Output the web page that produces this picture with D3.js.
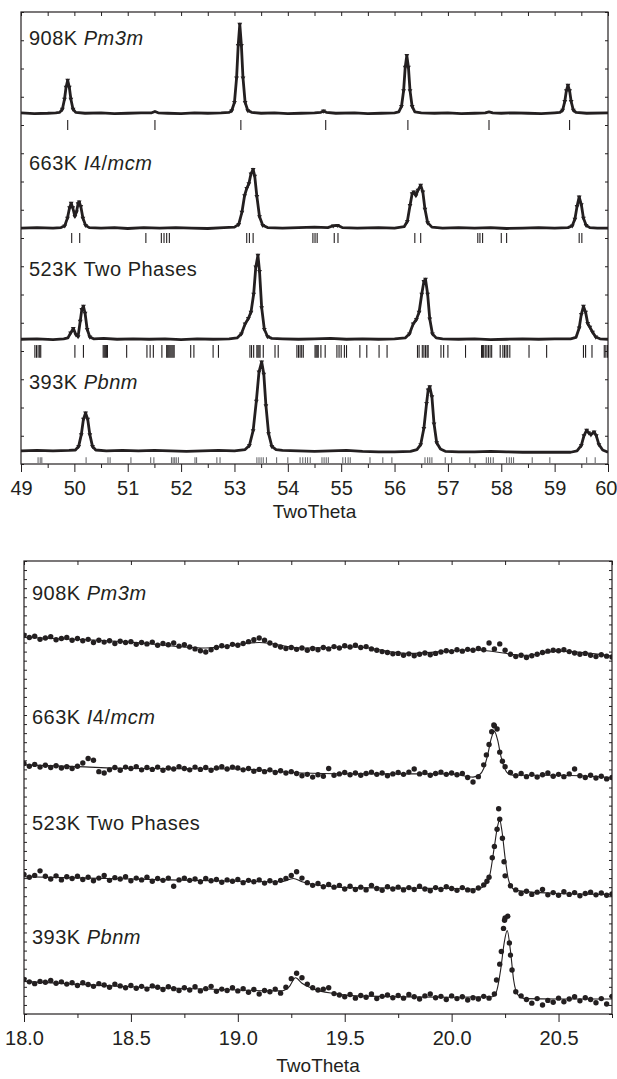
<!DOCTYPE html>
<html>
<head>
<meta charset="utf-8">
<script src="https://cdn.jsdelivr.net/npm/d3@7"></script>
<style>
  body { margin: 0; background: #fff; }
  svg { display: block; font-family: "Liberation Sans", Arial, Helvetica, sans-serif; }
  .tick text { font-size: 20px; fill: #231f20; }
  .tick line { stroke: #231f20; }
  .axis-title { font-size: 19px; fill: #231f20; }
  .series-label { font-size: 20px; fill: #231f20; letter-spacing: 0.5px; }
</style>
</head>
<body>
<svg id="chart" width="617" height="1079"></svg>
<script>
// ---------------- top panel : 49-60 deg ----------------
// observed profiles, [2theta, counts above the pattern's own baseline]
const topSamples = ["908K", "663K", "523K", "393K"];
const topOffsets = [776, 522, 276, 29];

const obs908 = [[49.0, 1], [49.25, -1], [49.5, 0], [49.65, 1], [49.725, 2], [49.775, 9], [49.815, 31], [49.845, 58], [49.875, 73], [49.905, 58], [49.935, 31], [49.975, 9], [50.025, 2], [50.2, 0], [50.5, 1], [50.75, -1], [51.0, 0], [51.25, 1], [51.45, 1], [51.51, 4], [51.57, 1], [51.75, 0], [52.0, -1], [52.25, 1], [52.5, 0], [52.75, 1], [52.9, 2], [52.95, 6], [53.0, 24], [53.04, 78], [53.07, 150], [53.1, 197], [53.13, 150], [53.16, 78], [53.2, 24], [53.25, 6], [53.32, 2], [53.5, 0], [53.75, 1], [54.0, -1], [54.25, 0], [54.5, 1], [54.62, 2], [54.67, 5], [54.72, 2], [54.9, 0], [55.25, 1], [55.5, -1], [55.75, 0], [56.0, 1], [56.08, 3], [56.13, 15], [56.17, 50], [56.2, 102], [56.23, 128], [56.26, 102], [56.29, 50], [56.33, 15], [56.38, 3], [56.5, 1], [56.75, 0], [57.0, 1], [57.25, -1], [57.5, 0], [57.7, 1], [57.77, 3], [57.84, 1], [58.0, 0], [58.25, 1], [58.5, 0], [58.75, -1], [59.0, 1], [59.1, 2], [59.15, 7], [59.19, 26], [59.22, 50], [59.25, 62], [59.28, 50], [59.31, 26], [59.35, 7], [59.4, 2], [59.6, 0], [60.0, 1]];

const obs663 = [[49.0, 0], [49.3, 1], [49.6, 0], [49.75, 1], [49.82, 5], [49.87, 22], [49.91, 45], [49.94, 55], [49.97, 45], [50.01, 26], [50.04, 36], [50.07, 54], [50.09, 58], [50.12, 48], [50.16, 22], [50.21, 6], [50.28, 1], [50.5, 0], [50.75, 1], [51.0, -1], [51.3, 1], [51.6, 0], [51.9, 1], [52.2, 0], [52.5, -1], [52.8, 1], [53.0, 2], [53.08, 8], [53.14, 35], [53.19, 72], [53.23, 88], [53.27, 98], [53.31, 120], [53.35, 130], [53.38, 115], [53.42, 70], [53.47, 25], [53.53, 6], [53.62, 1], [53.9, 0], [54.2, 1], [54.5, 2], [54.75, 1], [54.85, 5], [54.93, 6], [55.02, 1], [55.3, 0], [55.7, 1], [56.0, 0], [56.18, 3], [56.24, 15], [56.29, 50], [56.33, 76], [56.36, 80], [56.4, 72], [56.44, 84], [56.49, 95], [56.53, 80], [56.57, 42], [56.62, 12], [56.7, 2], [56.9, 0], [57.2, 1], [57.5, 0], [57.8, 1], [58.1, -1], [58.4, 0], [58.7, 1], [59.0, 0], [59.25, 1], [59.33, 5], [59.38, 20], [59.42, 48], [59.46, 69], [59.5, 52], [59.54, 22], [59.59, 6], [59.66, 1], [59.8, 0], [60.0, 0]];

const obs523 = [[49.0, 0], [49.3, 1], [49.6, -1], [49.8, 1], [49.88, 3], [49.93, 14], [49.98, 24], [50.03, 10], [50.07, 6], [50.11, 40], [50.14, 66], [50.17, 73], [50.2, 58], [50.24, 22], [50.29, 5], [50.36, 1], [50.55, 2], [50.8, 0], [51.1, 1], [51.4, 0], [51.7, 1], [52.0, -1], [52.3, 1], [52.6, 0], [52.9, 1], [53.05, 3], [53.13, 12], [53.2, 34], [53.26, 46], [53.31, 60], [53.36, 100], [53.4, 160], [53.44, 186], [53.47, 150], [53.51, 70], [53.56, 22], [53.62, 6], [53.7, 2], [53.9, 1], [54.2, 0], [54.5, 1], [54.8, 2], [55.1, 0], [55.4, 1], [55.7, 0], [56.0, 1], [56.2, 3], [56.28, 12], [56.35, 34], [56.41, 44], [56.46, 60], [56.51, 100], [56.55, 128], [56.58, 133], [56.62, 100], [56.66, 45], [56.71, 12], [56.78, 3], [56.9, 1], [57.2, 0], [57.5, 1], [57.8, -1], [58.1, 0], [58.4, 1], [58.7, 0], [59.0, 1], [59.3, 1], [59.4, 4], [59.46, 25], [59.5, 55], [59.54, 73], [59.58, 60], [59.62, 35], [59.66, 27], [59.71, 16], [59.77, 5], [59.85, 1], [60.0, 0]];

const obs393 = [[49.0, 0], [49.3, 1], [49.6, 0], [49.9, 1], [50.02, 2], [50.08, 10], [50.13, 36], [50.17, 70], [50.21, 84], [50.25, 70], [50.29, 36], [50.34, 10], [50.4, 2], [50.6, 0], [50.9, 1], [51.2, 0], [51.5, 1], [51.8, 0], [52.1, -1], [52.4, 0], [52.7, 1], [53.0, 0], [53.2, 3], [53.28, 12], [53.35, 45], [53.41, 110], [53.46, 175], [53.51, 197], [53.55, 170], [53.59, 100], [53.64, 38], [53.7, 10], [53.78, 3], [53.9, 1], [54.2, 0], [54.5, -1], [54.8, 0], [55.1, 1], [55.4, -1], [55.7, -2], [56.0, -2], [56.3, -1], [56.42, 3], [56.49, 14], [56.55, 50], [56.6, 105], [56.63, 135], [56.66, 142], [56.7, 120], [56.74, 60], [56.79, 18], [56.86, 4], [56.95, -1], [57.2, -2], [57.5, -2], [57.8, -1], [58.1, -2], [58.4, -3], [58.7, -3], [59.0, -3], [59.3, -3], [59.42, 0], [59.5, 12], [59.55, 34], [59.6, 46], [59.64, 40], [59.68, 36], [59.74, 42], [59.78, 34], [59.83, 14], [59.9, 2], [60.0, -3]];

// reflection positions (2theta) under each pattern
const hkl908 = [49.875, 51.51, 53.12, 54.71, 56.25, 57.77, 59.28];
const hkl663 = [49.95, 50.1, 51.34, 51.63, 51.68, 51.73, 51.78, 53.23, 53.28, 53.35, 54.47, 54.51, 54.55, 54.87, 54.94, 56.38, 56.49, 57.56, 57.6, 57.65, 58.0, 58.1, 59.46, 59.51];
const hkl523 = [49.26, 49.29, 49.32, 49.35, 49.37, 50.01, 50.17, 50.54, 50.56, 50.58, 50.6, 50.62, 50.98, 51.36, 51.42, 51.48, 51.64, 51.73, 51.75, 51.77, 51.79, 51.81, 51.83, 51.85, 51.87, 52.18, 52.24, 52.6, 52.7, 53.29, 53.32, 53.36, 53.42, 53.44, 53.46, 53.48, 53.54, 53.76, 53.82, 54.17, 54.2, 54.23, 54.26, 54.29, 54.51, 54.53, 54.55, 54.57, 54.62, 54.7, 54.92, 54.96, 55.0, 55.06, 55.1, 55.35, 55.48, 55.71, 55.86, 56.43, 56.46, 56.52, 56.55, 56.58, 56.61, 56.63, 56.87, 56.92, 57.0, 57.33, 57.63, 57.65, 57.67, 57.7, 57.73, 57.76, 57.79, 57.82, 57.98, 58.03, 58.06, 58.09, 58.12, 58.16, 58.52, 58.85, 59.54, 59.58, 59.7, 59.93, 59.96, 59.99];
const hkl393 = [49.32, 49.36, 49.39, 50.22, 50.63, 50.67, 51.06, 51.43, 51.49, 51.82, 51.85, 51.88, 51.91, 51.95, 52.26, 52.29, 52.67, 52.73, 53.42, 53.46, 53.5, 53.54, 53.6, 53.79, 54.0, 54.23, 54.28, 54.33, 54.37, 54.42, 54.64, 54.68, 54.72, 54.76, 55.03, 55.08, 55.13, 55.17, 55.54, 55.78, 55.95, 56.57, 56.62, 56.66, 56.7, 56.95, 57.07, 57.41, 57.72, 57.76, 57.8, 57.85, 58.1, 58.15, 58.19, 58.23, 58.58, 58.91, 59.6, 59.76];

const topTicks = [49, 50, 51, 52, 53, 54, 55, 56, 57, 58, 59, 60];
const topMinor = [49.5, 50.5, 51.5, 52.5, 53.5, 54.5, 55.5, 56.5, 57.5, 58.5, 59.5];

// ---------------- bottom panel : 18-20.75 deg ----------------
// observed points on a 0.025 deg grid starting at 18.0, plus extra points over the peaks
const lowStart = 18.0, lowStep = 0.025;
const lowOffsets = [80, 52, 26, 3];

const low908 = [3.6, 3.1, 3.4, 2.7, 3.0, 3.3, 2.6, 2.9, 3.1, 2.5,
  2.9, 2.4, 2.7, 2.0, 2.5, 2.1, 2.4, 1.8, 2.3, 2.0,
  2.2, 1.6, 2.0, 1.7, 2.1, 1.4, 1.8, 1.5, 1.9, 1.2,
  1.5, 1.0, 0.6, 0.2, -0.1, 0.4, 0.9, 1.3, 1.1, 1.6,
  1.4, 1.8, 2.2, 2.6, 3.0, 2.5, 1.9, 1.4, 1.0, 0.7,
  0.9, 0.5, 0.8, 0.3, 0.7, 0.4, 0.9, 0.6, 1.1, 0.8,
  1.3, 1.0, 1.4, 0.9, 1.1, 0.6, 0.3, 0.0, -0.2, -0.5,
  -0.4, -0.8, -0.5, -0.9, -0.6, -0.3, -0.7, -0.4, -0.1, 0.2,
  0.0, 0.4, 0.1, 0.5, 0.3, 0.7, 0.4, 1.9, 0.6, 1.7,
  0.3, -0.6, -1.1, -0.8, -1.3, -0.9, -0.6, -0.2, 0.1, 0.3,
  0.2, 0.4, 0.0, -0.3, -0.6, -0.4, -0.8, -1.1, -0.7, -1.0, -1.2];
const low663 = [3.3, 2.7, 3.1, 2.5, 2.9, 2.4, 2.8, 2.3, 2.6, 2.2,
  2.7, 3.4, 4.4, 4.0, 1.5, 1.2, 1.9, 2.4, 1.8, 2.5,
  2.2, 2.6, 1.9, 2.4, 2.0, 2.5, 1.8, 2.3, 2.1, 2.6,
  2.2, 1.9, 2.5, 2.0, 2.4, 1.8, 2.3, 2.6, 2.1, 2.5,
  2.3, 1.9, 2.2, 1.6, 2.0, 1.5, 1.9, 1.3, 1.7, 1.2,
  1.5, 1.1, 0.6, 0.9, 0.3, 0.8, 0.5, 2.2, 0.7, 1.0,
  1.3, 0.8, 1.2, 0.7, 1.1, 1.4, 0.9, 1.2, 0.6, 1.0,
  1.3, 0.9, 1.4, 2.1, 1.0, 1.3, 0.7, 1.1, 1.4, 0.9,
  1.2, 0.8, 1.1, 0.2, -0.8, 0.4, 3.0, 7.5, 11.6, 5.8,
  2.6, 1.3, 0.6, 1.1, 0.4, 0.9, 0.3, 0.8, 1.2, 0.5,
  0.9, 0.4, 1.0, 2.1, 0.6, 0.2, 0.7, 0.1, 0.5, -0.1, 0.2];
const low523 = [4.8, 4.2, 4.6, 5.6, 4.4, 3.8, 4.5, 3.6, 4.3, 3.9,
  4.4, 3.7, 4.2, 3.4, 4.0, 4.6, 3.5, 4.1, 3.8, 4.3,
  3.4, 4.0, 3.6, 4.2, 3.3, 3.9, 3.5, 4.0, 2.2, 3.6,
  4.0, 3.5, 3.8, 3.2, 3.9, 3.4, 3.7, 3.1, 3.6, 3.3,
  3.7, 3.0, 3.5, 3.2, 3.6, 2.9, 3.4, 3.0, 3.5, 3.9,
  4.6, 5.4, 4.0, 3.0, 2.4, 2.8, 2.1, 2.6, 2.0, 2.4,
  1.6, 2.2, 1.5, 2.0, 1.4, 2.4, 1.7, 1.3, 2.1, 1.6,
  2.0, 1.4, 1.9, 1.5, 2.2, 1.6, 1.2, 1.9, 1.5, 2.1,
  1.7, 1.3, 1.9, 1.4, 1.2, 1.8, 2.5, 4.2, 11.0, 17.0,
  4.5, 2.3, 1.4, 0.6, 1.1, 0.4, 0.9, 1.5, 0.3, 0.8,
  0.2, 1.0, 0.4, 0.8, 0.1, 0.6, 0.9, 0.3, 0.7, 0.2, 0.5];
const low393 = [4.6, 4.1, 3.7, 4.2, 4.0, 4.4, 3.8, 4.1, 3.6, 3.9,
  3.3, 3.9, 3.5, 3.1, 3.7, 3.4, 2.9, 3.6, 3.2, 2.8,
  3.3, 2.7, 3.1, 2.5, 3.2, 2.9, 2.4, 3.0, 2.6, 2.2,
  2.8, 2.3, 3.0, 2.1, 2.6, 3.1, 2.0, 2.5, 2.2, 2.8,
  2.1, 2.6, 1.8, 2.4, 1.4, 2.2, 1.9, 2.5, 1.6, 2.9,
  4.8, 6.0, 5.0, 3.6, 2.8, 2.3, 2.5, 2.8, 1.5, 1.2,
  0.8, 1.3, 0.5, 1.1, 0.7, 1.4, 0.4, 0.9, 1.2, 0.6,
  1.1, 0.5, 1.3, 0.8, 0.3, 1.0, 1.4, 0.6, 0.9, 0.2,
  1.0, 0.4, 0.8, 0.1, 0.6, 0.3, 0.9, 0.5, 1.4, 8.0,
  18.2, 10.0, 1.9, 1.0, 0.2, -0.6, 0.4, -1.0, 0.0, -0.4,
  0.5, -0.3, 0.3, 0.8, -0.1, 0.6, 0.2, -0.5, 0.4, -0.8, 0.9];

const lowPeak908 = [];
const lowPeak663 = [[20.1625, 5.2], [20.1875, 10.3], [20.1975, 11.8], [20.2125, 10.9], [20.2375, 3.8]];
const lowPeak523 = [[20.165, 3.3], [20.19, 8.5], [20.2125, 14.8], [20.22, 19.3], [20.2375, 12.8], [20.245, 7.6]];
const lowPeak393 = [[20.21, 4.5], [20.2325, 10.8], [20.2425, 15.9], [20.2475, 17.7], [20.2625, 18.6], [20.27, 12.7], [20.2825, 6.7]];

// refined (calculated) curves
const calc908 = [[18.0, 3.1], [18.5, 2.1], [18.85, 0.8], [19.1, 2.0], [19.3, 0.8], [19.55, 1.0], [19.8, -0.4], [20.1, 0.4], [20.35, -0.8], [20.5, 0.1], [20.75, -1.0]];
const calc663 = [[18.0, 3.0], [18.25, 2.6], [18.5, 2.2], [19.0, 2.1], [19.3, 1.2], [19.6, 1.0], [20.0, 1.0], [20.1, 0.3], [20.13, 0.8], [20.15, 2.2], [20.17, 5.5], [20.185, 8.8], [20.2, 10.4], [20.215, 8.5], [20.23, 5.0], [20.25, 2.0], [20.27, 0.9], [20.3, 0.7], [20.5, 0.7], [20.75, 0.2]];
const calc523 = [[18.0, 4.3], [18.5, 3.8], [19.0, 3.3], [19.2, 3.2], [19.26, 3.9], [19.3, 3.2], [19.4, 2.3], [19.5, 1.9], [20.0, 1.7], [20.12, 1.6], [20.16, 2.6], [20.18, 5.0], [20.2, 11.0], [20.215, 15.5], [20.225, 16.8], [20.235, 14.5], [20.25, 8.5], [20.265, 3.8], [20.28, 2.0], [20.3, 1.3], [20.5, 0.6], [20.75, 0.4]];
const calc393 = [[18.0, 4.2], [18.5, 3.0], [19.0, 2.3], [19.2, 2.1], [19.24, 3.0], [19.27, 5.0], [19.3, 3.8], [19.35, 2.6], [19.45, 1.5], [19.55, 1.0], [20.0, 0.7], [20.19, 0.8], [20.21, 2.0], [20.23, 7.0], [20.245, 12.5], [20.26, 15.4], [20.275, 11.0], [20.29, 4.5], [20.31, 1.2], [20.34, 0.4], [20.5, 0.3], [20.75, 0.3]];

const lowTicks = [18.0, 18.5, 19.0, 19.5, 20.0, 20.5];
const lowMinor = [18.25, 18.75, 19.25, 19.75, 20.25, 20.75];

// labels: sample temperature + space group (italic parts flagged)
const labelParts = [
  [["908K ", false], ["Pm3m", true]],
  [["663K ", false], ["I", true], ["4/", false], ["mcm", true]],
  [["523K Two Phases", false]],
  [["393K ", false], ["Pbnm", true]]
];

const ink = '#231f20';
const svg = d3.select('#chart');

class PatternPanel {
  constructor(_config) {
    this.config = {
      box: _config.box,
      xDomain: _config.xDomain,
      yDomain: _config.yDomain,
      majorTicks: _config.majorTicks,
      minorTicks: _config.minorTicks,
      topTicks: _config.topTicks,
      yTicks: _config.yTicks,
      tickFormat: _config.tickFormat,
      titleY: _config.titleY,
      labelY: _config.labelY,
      id: _config.id
    };
    this.initVis();
  }

  initVis() {
    let vis = this;
    const b = vis.config.box;

    vis.xScale = d3.scaleLinear().domain(vis.config.xDomain).range([b.left, b.right]);
    vis.yScale = d3.scaleLinear().domain(vis.config.yDomain).range([b.bottom, b.top]);

    vis.g = svg.append('g');
    vis.g.append('clipPath').attr('id', 'clip-' + vis.config.id)
      .append('rect')
        .attr('x', b.left).attr('y', b.top)
        .attr('width', b.right - b.left).attr('height', b.bottom - b.top);

    vis.plot = vis.g.append('g').attr('clip-path', `url(#clip-${vis.config.id})`);

    // axes: labelled bottom, mirrored inward ticks elsewhere
    const noDomain = g => g.select('.domain').remove();
    vis.xAxisG = vis.g.append('g')
        .attr('transform', `translate(0,${b.bottom})`)
        .call(d3.axisBottom(vis.xScale).tickValues(vis.config.majorTicks)
          .tickSize(8).tickPadding(9).tickFormat(vis.config.tickFormat))
        .call(noDomain);
    vis.g.append('g')
        .attr('transform', `translate(0,${b.bottom})`)
        .call(d3.axisBottom(vis.xScale).tickValues(vis.config.minorTicks).tickSize(4).tickFormat(''))
        .call(noDomain);
    vis.g.append('g')
        .attr('transform', `translate(0,${b.top})`)
        .call(d3.axisBottom(vis.xScale).tickValues(vis.config.topTicks).tickSize(4).tickFormat(''))
        .call(noDomain);
    vis.g.append('g')
        .attr('transform', `translate(${b.left},0)`)
        .call(d3.axisRight(vis.yScale).tickValues(vis.config.yTicks).tickSize(3).tickFormat(''))
        .call(noDomain);
    vis.g.append('g')
        .attr('transform', `translate(${b.right},0)`)
        .call(d3.axisLeft(vis.yScale).tickValues(vis.config.yTicks).tickSize(3).tickFormat(''))
        .call(noDomain);

    vis.g.append('rect')
        .attr('x', b.left).attr('y', b.top)
        .attr('width', b.right - b.left).attr('height', b.bottom - b.top)
        .attr('fill', 'none').attr('stroke', ink).attr('stroke-width', 1.2);

    vis.g.append('text')
        .attr('class', 'axis-title')
        .attr('x', (b.left + b.right) / 2)
        .attr('y', vis.config.titleY)
        .attr('text-anchor', 'middle')
        .text('TwoTheta');

    // sample labels
    labelParts.forEach((parts, i) => {
      const t = vis.g.append('text')
          .attr('class', 'series-label')
          .attr('x', b.left + 8)
          .attr('y', vis.yScale(vis.config.labelY[i]));
      parts.forEach(p => {
        t.append('tspan').style('font-style', p[1] ? 'italic' : 'normal').text(p[0]);
      });
    });
  }
}

// ---------- top panel ----------
const topPanel = new PatternPanel({
  id: 'top',
  box: {left: 21, right: 608, top: 12, bottom: 464},
  xDomain: [49, 60],
  yDomain: [0, 1000],
  majorTicks: topTicks,
  minorTicks: topMinor,
  topTicks: topTicks.concat(topMinor),
  yTicks: d3.range(0, 1001, 62.5),
  tickFormat: d3.format('d'),
  titleY: 518,
  labelY: [927, 650, 416, 166]
});

// keep the last label ("60") inside the page
topPanel.xAxisG.selectAll('.tick text')
    .filter(d => d === 60)
    .attr('text-anchor', 'end')
    .attr('dx', 9);

const topObs = [obs908, obs663, obs523, obs393];
const topHkl = [hkl908, hkl663, hkl523, hkl393];
// vertical extent of each reflection row, in intensity units
const hklRows = [[739, 761], [489, 511], [235, 263], [2, 15]];
const hklColors = [ink, ink, ink, '#6d6e71'];

topObs.forEach((series, i) => {
  const off = topOffsets[i];
  const line = d3.line()
      .x(d => topPanel.xScale(d[0]))
      .y(d => topPanel.yScale(d[1] + off));

  topPanel.plot.append('path')
      .datum(series)
      .attr('d', line)
      .attr('fill', 'none')
      .attr('stroke', ink)
      .attr('stroke-width', 2.8)
      .attr('stroke-linejoin', 'round');

  topPanel.plot.selectAll(null)
      .data(series.filter(d => d[1] > 4))
    .join('path')
      .attr('d', d3.symbol(d3.symbolTriangle, 10))
      .attr('transform', d => `translate(${topPanel.xScale(d[0])},${topPanel.yScale(d[1] + off)}) rotate(180)`)
      .attr('fill', ink);

  topPanel.plot.selectAll(null)
      .data(topHkl[i])
    .join('line')
      .attr('x1', d => topPanel.xScale(d))
      .attr('x2', d => topPanel.xScale(d))
      .attr('y1', topPanel.yScale(hklRows[i][0]))
      .attr('y2', topPanel.yScale(hklRows[i][1]))
      .attr('stroke', hklColors[i])
      .attr('stroke-width', 1.1);
});

// ---------- bottom panel ----------
const lowPanel = new PatternPanel({
  id: 'low',
  box: {left: 24, right: 612, top: 561, bottom: 1014},
  xDomain: [18, 20.75],
  yDomain: [0, 100],
  majorTicks: lowTicks,
  minorTicks: lowMinor,
  topTicks: lowTicks.concat(lowMinor),
  yTicks: d3.range(0, 101, 2),
  tickFormat: d3.format('.1f'),
  titleY: 1072,
  labelY: [91.4, 64.0, 40.6, 15.5]
});

const lowObs = [low908, low663, low523, low393];
const lowPeaks = [lowPeak908, lowPeak663, lowPeak523, lowPeak393];
const lowCalc = [calc908, calc663, calc523, calc393];

lowObs.forEach((vals, i) => {
  const off = lowOffsets[i];
  const pts = vals.map((v, k) => [lowStart + k * lowStep, v])
      .concat(lowPeaks[i])
      .sort((a, b) => a[0] - b[0]);

  lowPanel.plot.append('path')
      .datum(lowCalc[i])
      .attr('d', d3.line()
        .curve(d3.curveMonotoneX)
        .x(d => lowPanel.xScale(d[0]))
        .y(d => lowPanel.yScale(d[1] + off)))
      .attr('fill', 'none')
      .attr('stroke', ink)
      .attr('stroke-width', 1.1);

  lowPanel.plot.selectAll(null)
      .data(pts)
    .join('circle')
      .attr('cx', d => lowPanel.xScale(d[0]))
      .attr('cy', d => lowPanel.yScale(d[1] + off))
      .attr('r', 2.7)
      .attr('fill', ink);
});
</script>
</body>
</html>
